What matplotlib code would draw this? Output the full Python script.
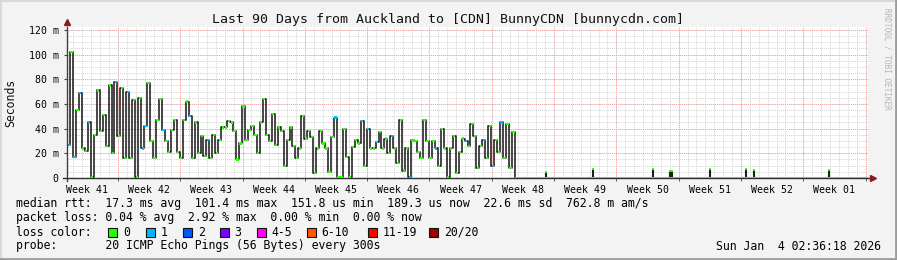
import matplotlib
matplotlib.use("Agg")
import matplotlib.pyplot as plt
from matplotlib.lines import Line2D
from matplotlib.patches import Rectangle
import numpy as np

# median rtt (ms), one value every 8 hours from the start of the 90 day window
median_ms = [
    27, 102, 17, 55, 69, 24, 22, 45, 1, 35, 71, 38, 51, 26, 75, 20, 78, 34, 73, 16,
    70, 16, 63, 1, 65, 24, 42, 77, 30, 16, 47, 64, 39, 30, 21, 39, 47, 21, 16, 47,
    62, 50, 16, 45, 20, 34, 18, 31, 16, 35, 20, 31, 41, 41, 46, 45, 38, 15, 28, 58,
    31, 39, 42, 35, 20, 45, 64, 35, 30, 52, 27, 41, 38, 10, 31, 41, 26, 16, 24, 50,
    32, 38, 33, 4, 24, 38, 28, 24, 5, 33, 49, 1, 1, 40, 17, 1, 25, 31, 28, 46,
    10, 40, 24, 24, 29, 37, 24, 32, 20, 34, 24, 12, 47, 6, 24, 1, 31, 30, 21, 16,
    47, 30, 16, 30, 24, 10, 40, 24, 1, 24, 34, 4, 21, 32, 30, 26, 44, 34, 8, 26,
    31, 16, 42, 10, 31, 21, 45, 16, 44, 8, 37,
]
step_days = 1 / 3
# samples that lost 1 of 20 pings
loss_one = [0, 2, 4, 7, 16, 20, 25, 26, 32, 41, 47, 90, 99, 101, 104, 109, 115,
            124, 134, 140, 143, 146]

# after week 48 the median sits near 0.19 ms, with a few short spikes
tail_ms = 0.19
spike_days = [53.8, 59.1, 65.8, 67.8, 68.0, 72.25, 76.3, 77.2, 85.6]
spike_ms = [4.5, 7.0, 7.0, 6.0, 6.0, 7.0, 7.0, 6.5, 6.5]

first_monday = 5.73  # days from window start to the first week boundary
week_labels = ["Week 41", "Week 42", "Week 43", "Week 44", "Week 45", "Week 46",
               "Week 47", "Week 48", "Week 49", "Week 50", "Week 51", "Week 52",
               "Week 01"]
y_ticks = [0, 20, 40, 60, 80, 100, 120]
y_labels = ["0", "20 m", "40 m", "60 m", "80 m", "100 m", "120 m"]

loss_labels = ["0", "1", "2", "3", "4-5", "6-10", "11-19", "20/20"]
loss_colors = ["#26ff00", "#00b8ff", "#0059ff", "#7e00ff", "#ff00ff", "#ff5500",
               "#ff0000", "#a00000"]

title = "Last 90 Days from Auckland to [CDN] BunnyCDN [bunnycdn.com]"
rtt_line = "median rtt:  17.3 ms avg  101.4 ms max  151.8 us min  189.3 us now  22.6 ms sd  762.8 m am/s"
loss_line = "packet loss: 0.04 % avg  2.92 % max  0.00 % min  0.00 % now"
probe_line = "probe:       20 ICMP Echo Pings (56 Bytes) every 300s"
stamp = "Sun Jan  4 02:36:18 2026"

MONO = "DejaVu Sans Mono"
W, H = 897, 260

fig = plt.figure(figsize=(W / 100, H / 100), dpi=100, facecolor="#f3f3f3")
ax = fig.add_axes([67 / W, 1 - 178 / H, 801 / W, 151 / H])
ax.set_facecolor("white")
ax.set_xlim(0, 90)
ax.set_ylim(0, 122.4)
for s in ax.spines.values():
    s.set_visible(False)

# grid
for d in np.arange(first_monday % 1, 90, 1.0):
    ax.axvline(d, color="#d4d4d4", lw=0.7, ls=(0, (1, 1)), zorder=0)
for d in np.arange(first_monday, 90, 7.0):
    ax.axvline(d, color="#f2a0a0", lw=0.7, ls=(0, (1, 1)), zorder=0.5)
for v in np.arange(5, 122, 5):
    ax.axhline(v, color="#d4d4d4", lw=0.7, ls=(0, (1, 1)), zorder=0)
for v in y_ticks[1:]:
    ax.axhline(v, color="#f2a0a0", lw=0.7, ls=(0, (1, 1)), zorder=0.5)

# ticks
week_edges = np.arange(first_monday, 90, 7.0)
week_centers = first_monday - 3.5 + 7 * np.arange(len(week_labels))
ax.set_xticks(week_centers, week_labels, family=MONO, fontsize=7.1)
ax.set_xticks(week_edges, minor=True)
ax.tick_params(axis="x", which="major", length=0, pad=5)
ax.tick_params(axis="x", which="minor", length=2, color="#404040")
ax.set_yticks(y_ticks, y_labels, family=MONO, fontsize=7.1)
ax.tick_params(axis="y", length=2, color="#404040", pad=4)

# median line
t = np.arange(len(median_ms)) * step_days
end = len(median_ms) * step_days
ax.step(np.append(t, end), np.append(median_ms, tail_ms), where="post",
        color="#1e1e1e", lw=1.15, zorder=3)
ax.plot([end, 90], [tail_ms, tail_ms], color="#26ff00", lw=1.4, zorder=4,
        solid_capstyle="butt")
ax.vlines(spike_days, tail_ms, spike_ms, color="#1e1e1e", lw=1.5, zorder=3)

vals = np.array(median_ms, dtype=float)
colors = np.array(["#26ff00"] * len(vals), dtype=object)
colors[loss_one] = "#00b8ff"
ax.scatter(t + step_days / 2, vals, s=2.6, marker="s", c=list(colors),
           linewidths=0, zorder=5)
ax.scatter(spike_days, spike_ms, s=2.6, marker="s", c="#26ff00", linewidths=0,
           zorder=5)

# axis lines with arrows
ax.plot([0, 0], [-0.02, 1.0], transform=ax.transAxes, color="#404040", lw=1,
        clip_on=False, zorder=6)
ax.plot([-0.005, 1.005], [0, 0], transform=ax.transAxes, color="#303030", lw=1,
        clip_on=False, zorder=2)
ax.plot([0], [1.03], transform=ax.transAxes, marker="^", ms=4.5, color="#8b1a1a",
        clip_on=False, zorder=6)
ax.plot([1.006], [0], transform=ax.transAxes, marker=">", ms=4.5, color="#8b1a1a",
        clip_on=False, zorder=6)


def fx(px):
    return px / W


def fy(py):
    return 1 - py / H


fig.text(fx(448), fy(19), title, ha="center", va="center", family=MONO,
         fontsize=9.5, color="#111111")
fig.text(fx(11), fy(103), "Seconds", ha="center", va="center", rotation=90,
         family=MONO, fontsize=8.3, color="#111111")
fig.text(fx(887), fy(59), "RRDTOOL / TOBI OETIKER", ha="center", va="center",
         rotation=270, family=MONO, fontsize=5.6, color="#b4b4b4")

fig.text(fx(16), fy(204), rtt_line, va="center", family=MONO, fontsize=8.3)
fig.text(fx(16), fy(218), loss_line, va="center", family=MONO, fontsize=8.3)
fig.text(fx(16), fy(232), "loss color:", va="center", family=MONO, fontsize=8.3)
fig.text(fx(16), fy(246), probe_line, va="center", family=MONO, fontsize=8.3)
fig.text(fx(881), fy(246), stamp, ha="right", va="center", family=MONO,
         fontsize=8.3)

# legend swatches, left edges in pixels
box_px = [108, 145.7, 182.7, 219.7, 256.7, 306.7, 368, 429]
for x, lab, col in zip(box_px, loss_labels, loss_colors):
    fig.add_artist(Rectangle((fx(x), fy(236.5)), 9 / W, 9 / H,
                             transform=fig.transFigure, facecolor=col,
                             edgecolor="#111111", lw=0.8))
    fig.text(fx(x + 15), fy(232), lab, va="center", family=MONO, fontsize=8.3)

# frame around the image
fig.add_artist(Line2D([0, 1], [fy(1), fy(1)], color="#d8d8d8", lw=1.5))
fig.add_artist(Line2D([fx(1), fx(1)], [0, 1], color="#d8d8d8", lw=1.5))
fig.add_artist(Line2D([0, 1], [fy(259), fy(259)], color="#9c9c9c", lw=2))
fig.add_artist(Line2D([fx(896), fx(896)], [0, 1], color="#9c9c9c", lw=2))

fig.savefig("out.png", dpi=100, facecolor=fig.get_facecolor())
